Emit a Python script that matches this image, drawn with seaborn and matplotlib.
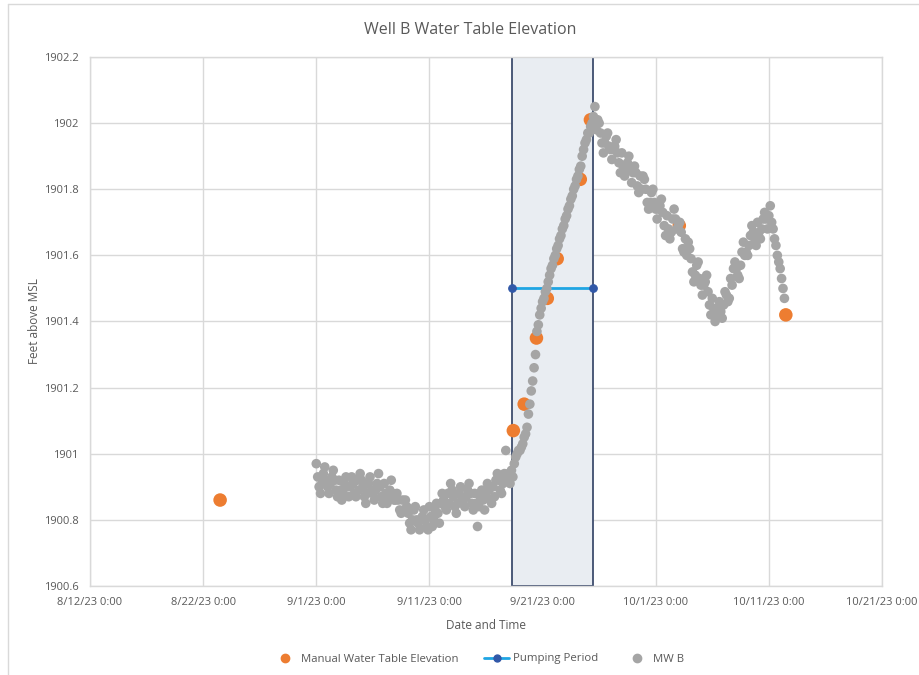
import matplotlib
matplotlib.use("Agg")
import matplotlib.pyplot as plt
import matplotlib.dates as mdates
from matplotlib.patches import Rectangle
from matplotlib.lines import Line2D
import seaborn as sns
import pandas as pd

sns.set_theme(style="white")
plt.rcParams['font.family'] = ['Open Sans', 'DejaVu Sans']

# ---------------- data ----------------
manual_times = ["2023-08-23 12:00", "2023-09-18 10:00", "2023-09-19 09:00",
                "2023-09-20 11:00", "2023-09-21 10:00", "2023-09-22 07:00",
                "2023-09-24 08:00", "2023-09-25 05:30", "2023-10-03 02:00",
                "2023-10-12 12:00"]
manual_values = [1900.86, 1901.07, 1901.15, 1901.35, 1901.47, 1901.59,
                 1901.83, 1902.01, 1901.69, 1901.42]

pumping_times = ["2023-09-18 08:00", "2023-09-25 12:00"]
pumping_values = [1901.5, 1901.5]

mwb_start = "2023-09-01 00:00"
mwb_freq = "3h"
mwb_values = [
    1900.97, 1900.93, 1900.90, 1900.88, 1900.91, 1900.94, 1900.96, 1900.92,   # 9/1
    1900.90, 1900.88, 1900.91, 1900.93, 1900.95, 1900.92, 1900.89, 1900.87,
    1900.92, 1900.89, 1900.86, 1900.88, 1900.91, 1900.93, 1900.90, 1900.87,
    1900.90, 1900.93, 1900.91, 1900.88, 1900.87, 1900.92, 1900.89, 1900.94,
    1900.92, 1900.90, 1900.87, 1900.85, 1900.88, 1900.91, 1900.93, 1900.89,   # 9/5
    1900.88, 1900.86, 1900.89, 1900.91, 1900.94, 1900.90, 1900.87, 1900.85,
    1900.91, 1900.88, 1900.85, 1900.87, 1900.89, 1900.92, 1900.88, 1900.86,
    1900.86, 1900.88, 1900.86, 1900.83, 1900.82, 1900.86, 1900.83, 1900.86,
    1900.84, 1900.82, 1900.79, 1900.77, 1900.80, 1900.83, 1900.84, 1900.80,
    1900.79, 1900.77, 1900.80, 1900.81, 1900.83, 1900.80, 1900.78, 1900.77,   # 9/10
    1900.84, 1900.81, 1900.78, 1900.80, 1900.83, 1900.85, 1900.82, 1900.79,
    1900.85, 1900.88, 1900.86, 1900.84, 1900.83, 1900.88, 1900.85, 1900.91,
    1900.89, 1900.87, 1900.84, 1900.82, 1900.85, 1900.88, 1900.90, 1900.86,
    1900.86, 1900.84, 1900.87, 1900.89, 1900.91, 1900.88, 1900.85, 1900.83,
    1900.88, 1900.85, 1900.78, 1900.84, 1900.87, 1900.89, 1900.86, 1900.83,   # 9/15
    1900.88, 1900.91, 1900.89, 1900.86, 1900.85, 1900.90, 1900.87, 1900.92,
    1900.94, 1900.92, 1900.89, 1900.88, 1900.91, 1900.94, 1901.01, 1900.93,
    1900.94, 1900.91, 1900.95, 1900.93, 1900.97, 1900.99, 1901.00, 1901.01,
    1901.01, 1901.02, 1901.03, 1901.05, 1901.06, 1901.08, 1901.12, 1901.15,
    1901.19, 1901.22, 1901.26, 1901.30, 1901.37, 1901.39, 1901.42, 1901.44,   # 9/20
    1901.46, 1901.47, 1901.49, 1901.50, 1901.52, 1901.54, 1901.56, 1901.57,
    1901.59, 1901.60, 1901.62, 1901.63, 1901.65, 1901.66, 1901.68, 1901.69,
    1901.71, 1901.72, 1901.74, 1901.75, 1901.77, 1901.78, 1901.80, 1901.81,
    1901.83, 1901.84, 1901.86, 1901.87, 1901.90, 1901.92, 1901.94, 1901.95,
    1901.97, 1901.97, 1901.99, 1902.00, 1902.02, 1902.05, 1901.98, 1902.01,   # 9/25
    1902.00, 1901.97, 1901.94, 1901.91, 1901.94, 1901.96, 1901.97, 1901.93,
    1901.92, 1901.89, 1901.92, 1901.93, 1901.95, 1901.91, 1901.88, 1901.85,
    1901.91, 1901.87, 1901.84, 1901.86, 1901.88, 1901.90, 1901.86, 1901.82,
    1901.85, 1901.87, 1901.85, 1901.81, 1901.79, 1901.84, 1901.80, 1901.84,
    1901.83, 1901.80, 1901.76, 1901.74, 1901.76, 1901.79, 1901.80, 1901.76,   # 9/30
    1901.74, 1901.71, 1901.74, 1901.75, 1901.77, 1901.73, 1901.69, 1901.66,
    1901.72, 1901.68, 1901.65, 1901.67, 1901.71, 1901.74, 1901.71, 1901.68,
    1901.69, 1901.70, 1901.67, 1901.62, 1901.61, 1901.65, 1901.60, 1901.64,
    1901.62, 1901.59, 1901.55, 1901.52, 1901.54, 1901.57, 1901.58, 1901.53,
    1901.51, 1901.48, 1901.51, 1901.52, 1901.54, 1901.49, 1901.45, 1901.42,   # 10/5
    1901.47, 1901.44, 1901.40, 1901.42, 1901.44, 1901.46, 1901.43, 1901.41,
    1901.45, 1901.49, 1901.48, 1901.46, 1901.47, 1901.53, 1901.51, 1901.56,
    1901.58, 1901.56, 1901.54, 1901.53, 1901.57, 1901.61, 1901.64, 1901.60,
    1901.61, 1901.60, 1901.63, 1901.66, 1901.69, 1901.67, 1901.65, 1901.63,
    1901.70, 1901.67, 1901.65, 1901.68, 1901.71, 1901.73, 1901.71, 1901.68,   # 10/10
    1901.72, 1901.75, 1901.70, 1901.68, 1901.65, 1901.63, 1901.60, 1901.58,
    1901.56, 1901.53, 1901.50, 1901.47,
]

x_ticks = ["2023-08-12", "2023-08-22", "2023-09-01", "2023-09-11",
           "2023-09-21", "2023-10-01", "2023-10-11", "2023-10-21"]
y_ticks = [1900.6, 1900.8, 1901.0, 1901.2, 1901.4, 1901.6, 1901.8, 1902.0, 1902.2]
y_tick_labels = ["1900.6", "1900.8", "1901", "1901.2", "1901.4", "1901.6",
                 "1901.8", "1902", "1902.2"]

# ---------------- frames ----------------
manual_df = pd.DataFrame({"time": pd.to_datetime(manual_times), "value": manual_values})
pump_df = pd.DataFrame({"time": pd.to_datetime(pumping_times), "value": pumping_values})
mwb_df = pd.DataFrame({"time": pd.date_range(mwb_start, periods=len(mwb_values), freq=mwb_freq),
                       "value": mwb_values})
xt = pd.to_datetime(x_ticks)

ORANGE = "#ED7D31"
GREY = "#A5A5A5"
LBLUE = "#1FA5E3"
DBLUE = "#3158A8"
TXT = "#595959"
GRID = "#D9D9D9"

fig = plt.figure(figsize=(9.2, 6.75), dpi=100)
ax = fig.add_axes([90 / 920, 1 - 586 / 675, (882 - 90) / 920, (586 - 57) / 675])

ax.set_xlim(xt[0], xt[-1])
ax.set_ylim(y_ticks[0], y_ticks[-1])

# pumping-period shaded box
x0 = mdates.date2num(pump_df["time"].iloc[0])
x1 = mdates.date2num(pump_df["time"].iloc[1])
ax.add_patch(Rectangle((x0, y_ticks[0]), x1 - x0, y_ticks[-1] - y_ticks[0],
                       facecolor="#E9EDF2", edgecolor="#3E4D6E", linewidth=1.3, zorder=1))

sns.scatterplot(data=manual_df, x="time", y="value", ax=ax, color=ORANGE, s=95,
                edgecolor="none", zorder=3, legend=False)
sns.lineplot(data=pump_df, x="time", y="value", ax=ax, color=LBLUE, linewidth=2,
             marker="o", markersize=5.5, markerfacecolor=DBLUE, markeredgecolor=DBLUE,
             zorder=4, legend=False)
sns.scatterplot(data=mwb_df, x="time", y="value", ax=ax, color=GREY, s=48,
                edgecolor="none", zorder=5, legend=False)

ax.set_xticks(xt)
ax.set_xticklabels([f"{d.month}/{d.day}/{d.strftime('%y')} 0:00" for d in xt],
                   fontsize=8, color=TXT)
ax.set_yticks(y_ticks)
ax.set_yticklabels(y_tick_labels, fontsize=8, color=TXT)
ax.tick_params(axis="both", length=0, pad=8)
ax.grid(True, color=GRID, linewidth=1, zorder=0)
ax.set_axisbelow(True)
for sp in ax.spines.values():
    sp.set_visible(True)
    sp.set_color(GRID)
    sp.set_linewidth(1)

ax.set_xlabel("Date and Time", fontsize=8.5, color=TXT, labelpad=8)
ax.set_ylabel("Feet above MSL", fontsize=8.5, color=TXT, labelpad=2)
fig.text(470 / 920, 1 - 30 / 675, "Well B Water Table Elevation", fontsize=11.5,
         color=TXT, ha="center", va="center")

handles = [
    Line2D([], [], linestyle="none", marker="o", markersize=6, color=ORANGE),
    Line2D([], [], color=LBLUE, linewidth=2, marker="o", markersize=5,
           markerfacecolor=DBLUE, markeredgecolor=DBLUE),
    Line2D([], [], linestyle="none", marker="o", markersize=6, color=GREY),
]
fig.legend(handles, ["Manual Water Table Elevation", "Pumping Period", "MW B"],
           loc="center", bbox_to_anchor=(478 / 920, 1 - 659 / 675), ncol=3,
           frameon=False, fontsize=8.2, labelcolor=TXT, handlelength=2.2,
           columnspacing=2.3, handletextpad=0.3)

# outer chart border (top and left visible)
fig.add_artist(Line2D([8 / 920, 8 / 920], [0, 1 - 4 / 675], transform=fig.transFigure,
                      color=GRID, linewidth=1))
fig.add_artist(Line2D([8 / 920, 1], [1 - 4 / 675, 1 - 4 / 675], transform=fig.transFigure,
                      color=GRID, linewidth=1))

fig.savefig("out.png", dpi=100)
